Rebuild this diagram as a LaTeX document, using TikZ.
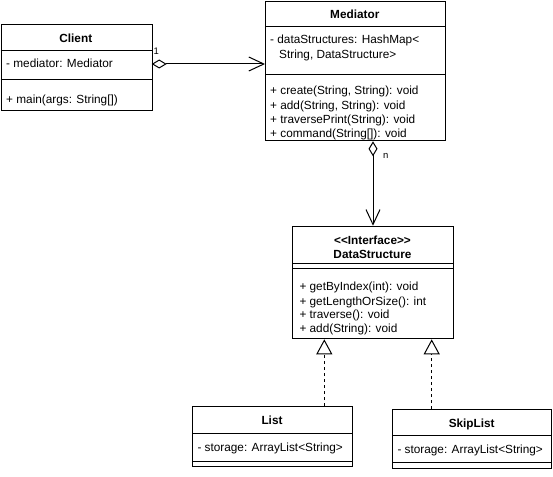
\documentclass[tikz,border=0pt]{standalone}
\usepackage{fontspec}
\setmainfont{Liberation Sans}[Ligatures=TeXOff]
\usetikzlibrary{arrows.meta}
\begin{document}
\begin{tikzpicture}[x=1pt,y=-1pt,
  umlbox/.style={draw,line width=1pt,rectangle,inner sep=0pt,anchor=north west},
  member/.style={anchor=base west,inner sep=0pt,font=\fontsize{11.8}{14}\selectfont},
  title/.style={anchor=base,inner sep=0pt,font=\fontsize{11.8}{14}\selectfont\bfseries},
  mult/.style={anchor=base west,inner sep=0pt,font=\fontsize{9.5}{11}\selectfont},
  divider/.style={line width=1pt},
  conn/.style={line width=1pt},
  assoc/.style={conn,{Diamond[open,length=15pt,width=9pt]}-{Straight Barb[length=15pt,width=14pt]}},
  realize/.style={conn,dash pattern=on 3pt off 3pt,-{Triangle[open,length=15pt,width=16pt]}}]
\useasboundingbox (0,0) rectangle (553,476);
\fill[white] (0,0) rectangle (553,476);

% Client
\node[umlbox,minimum width=151.2pt,minimum height=85.7pt] (client) at (0.5,24.3) {};
\draw[divider] (0.5,50.7) -- (151.7,50.7);
\draw[divider] (0.5,80) -- (151.7,80);
\node[title] (clientT) at (75.8,43) {Client};
\node[member] (clientA) at (6,67.3) {- mediator: Mediator};
\node[member] (clientM) at (6,103) {+ main(args: String[])};

% Mediator
\node[umlbox,minimum width=179.7pt,minimum height=139.3pt] (mediator) at (265,1) {};
\draw[divider] (265,26.3) -- (444.7,26.3);
\draw[divider] (265,74.7) -- (444.7,74.7);
\node[title] (medT) at (354.8,18.7) {Mediator};
\node[member] (medA1) at (270,44) {- dataStructures: HashMap<};
\node[member] (medA2) at (279,58.3) {String, DataStructure>};
\node[member] (medM1) at (270,95) {+ create(String, String): void};
\node[member] (medM2) at (270,109.7) {+ add(String, String): void};
\node[member] (medM3) at (270,123.3) {+ traversePrint(String): void};
\node[member] (medM4) at (270,137.7) {+ command(String[]): void};

% DataStructure
\node[umlbox,minimum width=160.4pt,minimum height=112.6pt] (ds) at (292.3,225.7) {};
\draw[divider] (292.3,263.3) -- (452.7,263.3);
\draw[divider] (292.3,268.3) -- (452.7,268.3);
\node[title] (dsT1) at (372.5,244) {<<Interface>>};
\node[title] (dsT2) at (372.5,258) {DataStructure};
\node[member] (dsM1) at (299.3,290.7) {+ getByIndex(int): void};
\node[member] (dsM2) at (299.3,305) {+ getLengthOrSize(): int};
\node[member] (dsM3) at (299.3,318.3) {+ traverse(): void};
\node[member] (dsM4) at (299.3,332.7) {+ add(String): void};

% List
\node[umlbox,minimum width=159.4pt,minimum height=60pt] (list) at (192.3,406) {};
\draw[divider] (192.3,433.3) -- (351.7,433.3);
\draw[divider] (192.3,461) -- (351.7,461);
\node[title] (listT) at (272,424.7) {List};
\node[member] (listA) at (197.3,451.3) {- storage: ArrayList<String>};

% SkipList
\node[umlbox,minimum width=158.7pt,minimum height=59.3pt] (skip) at (392.3,409) {};
\draw[divider] (392.3,435) -- (551,435);
\draw[divider] (392.3,462.7) -- (551,462.7);
\node[title] (skipT) at (471.7,427.3) {SkipList};
\node[member] (skipA) at (397.3,453) {- storage: ArrayList<String>};

% Connectors
\coordinate (cm) at (151.7,64);
\draw[assoc] (cm) -- (mediator.west |- cm);
\node[mult] (one) at (153.5,55) {1};

\draw[assoc] (ds.north |- mediator.south) -- (ds.north);
\node[mult] (n) at (383,158.5) {n};

\coordinate (lx) at (324.3,380);
\coordinate (sx) at (431.7,380);
\draw[realize] (list.north -| lx) -- (ds.south -| lx);
\draw[realize] (skip.north -| sx) -- (ds.south -| sx);
\end{tikzpicture}
\end{document}
